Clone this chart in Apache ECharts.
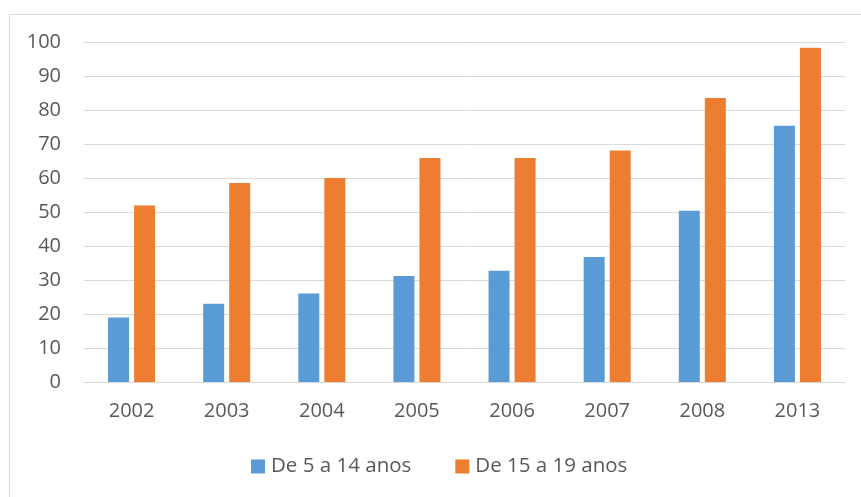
<!DOCTYPE html>
<html>
<head>
<meta charset="utf-8">
<script src="https://cdn.jsdelivr.net/npm/echarts@6/dist/echarts.min.js"></script>
<style>
  html, body { margin: 0; padding: 0; background: #ffffff; }
  #chart { width: 861px; height: 497px; }
</style>
</head>
<body>
<div id="chart"></div>
<script>
// Years on the category axis
const years = ['2002', '2003', '2004', '2005', '2006', '2007', '2008', '2013'];
// Series values per age group
const ages5to14 = [19.0, 23.0, 26.0, 31.2, 32.7, 36.8, 50.4, 75.4];
const ages15to19 = [51.9, 58.5, 60.0, 65.9, 65.9, 68.1, 83.5, 98.3];
// Series names
const seriesNames = ['De 5 a 14 anos', 'De 15 a 19 anos'];
// Value axis ticks
const yMin = 0, yMax = 100, yStep = 10;

const textColor = '#595959';
const lineColor = '#d9d9d9';
const fontFamily = '"Open Sans", "Noto Sans", sans-serif';

const chart = echarts.init(document.getElementById('chart'), null, { renderer: 'canvas' });

chart.setOption({
  animation: false,
  backgroundColor: '#ffffff',
  textStyle: { fontFamily: fontFamily },
  graphic: [{
    type: 'rect',
    left: 7,
    top: 12,
    shape: { x: 0.5, y: 0.5, width: 870, height: 500 },
    style: { fill: 'none', stroke: lineColor, lineWidth: 1 },
    silent: true
  }],
  grid: { left: 84, right: 16, top: 42, bottom: 115, containLabel: false },
  legend: {
    data: seriesNames,
    bottom: 20,
    left: 251,
    padding: 0,
    itemWidth: 14,
    itemHeight: 14,
    itemGap: 44,
    icon: 'rect',
    textStyle: { color: textColor, fontSize: 20.5, fontFamily: fontFamily, padding: [0, 0, 0, 1] }
  },
  xAxis: {
    type: 'category',
    data: years,
    axisLine: { show: true, lineStyle: { color: lineColor, width: 1 } },
    axisTick: { show: false },
    axisLabel: { color: textColor, fontSize: 20, margin: 19, fontFamily: fontFamily }
  },
  yAxis: {
    type: 'value',
    min: yMin,
    max: yMax,
    interval: yStep,
    axisLine: { show: false },
    axisTick: { show: false },
    axisLabel: { color: textColor, fontSize: 20, margin: 23, fontFamily: fontFamily },
    splitLine: { lineStyle: { color: lineColor, width: 1 } }
  },
  series: [
    {
      name: seriesNames[0],
      type: 'bar',
      data: ages5to14,
      barWidth: 21,
      barGap: '24%',
      itemStyle: { color: '#5b9bd5' }
    },
    {
      name: seriesNames[1],
      type: 'bar',
      data: ages15to19,
      barWidth: 21,
      barGap: '24%',
      itemStyle: { color: '#ed7d31' }
    }
  ]
});
</script>
</body>
</html>
